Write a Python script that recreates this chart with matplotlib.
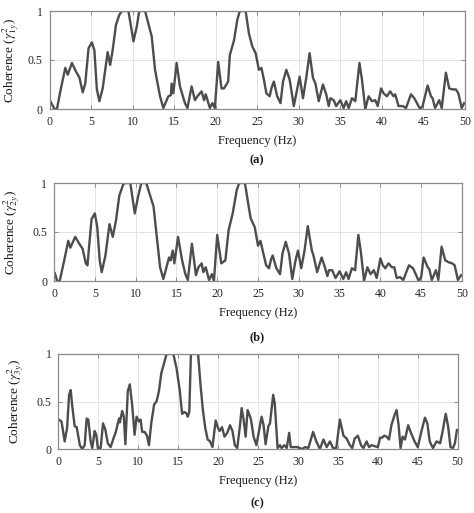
import matplotlib
matplotlib.use("Agg")
import matplotlib.pyplot as plt

# panel (a): coherence gamma^2_1y
freq_a = [0.1, 0.6, 0.9, 1.3, 1.9, 2.2, 2.7, 3.2, 3.6, 4.0,
          4.3, 4.7, 5.1, 5.4, 5.7, 6.0, 6.4, 7.0, 7.3, 7.6,
          8.0, 8.4, 8.7, 9.5, 10.1, 10.5, 10.8, 11.5, 12.0, 12.3,
          12.7, 13.3, 13.7, 14.3, 14.6, 14.7, 14.9, 15.3, 15.7, 16.3,
          16.6, 17.1, 17.5, 17.8, 18.3, 18.6, 18.8, 19.3, 19.6, 19.9,
          20.3, 20.7, 21.0, 21.5, 21.7, 22.2, 22.6, 22.9, 23.6, 24.0,
          24.4, 24.8, 25.2, 25.5, 25.8, 26.1, 26.5, 26.7, 27.0, 27.4,
          27.8, 28.1, 28.5, 28.9, 29.4, 29.8, 30.1, 30.5, 30.9, 31.3,
          31.7, 32.0, 32.4, 32.9, 33.3, 33.6, 33.8, 34.2, 34.5, 35.0,
          35.4, 35.7, 36.0, 36.4, 36.8, 37.3, 37.6, 38.0, 38.4, 38.8,
          39.2, 39.5, 39.9, 40.2, 40.6, 41.0, 41.4, 41.6, 42.0, 42.5,
          42.9, 43.5, 43.9, 44.6, 44.9, 45.5, 45.9, 46.1, 46.4, 46.9,
          47.2, 47.7, 48.1, 48.5, 48.9, 49.2, 49.6, 49.9]
coh_a = [0.08, 0.0, 0.0, 0.18, 0.42, 0.35, 0.47, 0.38, 0.32, 0.17,
         0.26, 0.62, 0.68, 0.60, 0.20, 0.08, 0.21, 0.58, 0.45, 0.60,
         0.86, 0.96, 1.0, 1.0, 0.69, 0.84, 1.0, 1.0, 0.84, 0.74,
         0.40, 0.13, 0.01, 0.13, 0.14, 0.26, 0.16, 0.47, 0.23, 0.06,
         0.01, 0.23, 0.09, 0.13, 0.18, 0.09, 0.15, 0.01, 0.06, 0.01,
         0.48, 0.21, 0.21, 0.28, 0.55, 0.70, 0.91, 1.0, 1.0, 0.77,
         0.64, 0.57, 0.40, 0.42, 0.30, 0.16, 0.13, 0.21, 0.28, 0.13,
         0.06, 0.28, 0.40, 0.30, 0.03, 0.20, 0.33, 0.11, 0.32, 0.57,
         0.32, 0.26, 0.08, 0.25, 0.15, 0.03, 0.11, 0.09, 0.03, 0.09,
         0.01, 0.08, 0.01, 0.11, 0.08, 0.47, 0.30, 0.0, 0.13, 0.08,
         0.09, 0.03, 0.21, 0.16, 0.13, 0.18, 0.13, 0.15, 0.03, 0.03,
         0.01, 0.15, 0.11, 0.0, 0.03, 0.24, 0.13, 0.11, 0.01, 0.09,
         0.01, 0.37, 0.21, 0.20, 0.20, 0.16, 0.01, 0.06]

# panel (b): coherence gamma^2_2y
freq_b = [0.1, 0.4, 0.7, 1.2, 1.75, 2.0, 2.6, 3.1, 3.5, 3.9,
          4.1, 4.6, 5.0, 5.3, 5.6, 5.85, 6.3, 6.8, 7.2, 7.6,
          8.0, 8.5, 8.8, 9.35, 9.9, 10.3, 10.7, 11.3, 11.9, 12.2,
          12.6, 13.0, 13.4, 14.1, 14.3, 14.55, 14.75, 15.2, 15.7, 16.1,
          16.4, 16.9, 17.4, 17.7, 18.1, 18.3, 18.6, 19.0, 19.35, 19.6,
          20.0, 20.5, 21.0, 21.4, 21.9, 22.4, 22.7, 23.4, 23.8, 24.1,
          24.6, 25.0, 25.3, 25.6, 26.0, 26.35, 26.6, 26.8, 27.25, 27.7,
          28.0, 28.4, 28.8, 29.2, 29.6, 29.9, 30.3, 30.7, 31.1, 31.6,
          31.8, 32.25, 32.8, 33.2, 33.5, 33.7, 34.1, 34.5, 35.0, 35.45,
          35.8, 36.1, 36.5, 36.9, 37.3, 37.6, 38.0, 38.4, 38.8, 39.2,
          39.55, 40.0, 40.3, 40.6, 41.0, 41.4, 41.7, 42.0, 42.4, 42.8,
          43.5, 44.0, 44.7, 45.0, 45.3, 45.8, 46.0, 46.3, 46.8, 47.1,
          47.5, 47.95, 48.4, 48.8, 49.1, 49.5, 49.9]
coh_b = [0.08, 0.0, 0.0, 0.19, 0.41, 0.34, 0.45, 0.38, 0.33, 0.18,
         0.16, 0.63, 0.69, 0.55, 0.21, 0.09, 0.26, 0.58, 0.45, 0.62,
         0.87, 0.99, 1.0, 1.0, 0.69, 0.86, 1.0, 1.0, 0.84, 0.76,
         0.45, 0.14, 0.02, 0.24, 0.21, 0.31, 0.18, 0.45, 0.21, 0.07,
         0.01, 0.38, 0.06, 0.14, 0.18, 0.09, 0.14, 0.01, 0.07, 0.0,
         0.47, 0.18, 0.21, 0.52, 0.69, 0.93, 1.0, 1.0, 0.79, 0.64,
         0.55, 0.36, 0.41, 0.30, 0.16, 0.13, 0.22, 0.26, 0.13, 0.07,
         0.28, 0.40, 0.28, 0.02, 0.21, 0.31, 0.13, 0.31, 0.56, 0.31,
         0.26, 0.09, 0.24, 0.14, 0.05, 0.11, 0.11, 0.03, 0.10, 0.02,
         0.09, 0.02, 0.13, 0.11, 0.47, 0.30, 0.0, 0.14, 0.07, 0.11,
         0.03, 0.23, 0.16, 0.13, 0.18, 0.14, 0.14, 0.03, 0.04, 0.01,
         0.16, 0.13, 0.0, 0.04, 0.24, 0.14, 0.12, 0.01, 0.11, 0.01,
         0.35, 0.21, 0.19, 0.18, 0.16, 0.01, 0.06]

# panel (c): coherence gamma^2_3y
freq_c = [0.05, 0.4, 0.8, 1.1, 1.35, 1.55, 1.75, 2.05, 2.3, 2.7,
          3.0, 3.3, 3.55, 3.75, 4.05, 4.25, 4.55, 4.75, 4.95, 5.3,
          5.6, 5.9, 6.2, 6.55, 6.9, 7.2, 7.4, 7.6, 7.7, 8.0,
          8.2, 8.4, 8.7, 8.95, 9.25, 9.55, 9.8, 10.1, 10.3, 10.5,
          10.8, 11.1, 11.35, 11.65, 12.0, 12.3, 12.6, 12.9, 13.2, 13.55,
          14.4, 14.8, 15.2, 15.5, 15.8, 16.1, 16.2, 16.4, 16.6, 17.5,
          17.8, 18.1, 18.4, 18.7, 19.0, 19.3, 19.7, 20.0, 20.2, 20.5,
          20.8, 21.15, 21.5, 21.8, 22.1, 22.4, 22.75, 22.95, 23.2, 23.45,
          23.7, 24.1, 24.45, 24.8, 25.45, 25.7, 25.95, 26.3, 26.5, 26.9,
          27.1, 27.45, 27.75, 27.95, 28.3, 28.6, 28.9, 29.1, 29.55, 29.95,
          30.5, 30.9, 31.3, 31.9, 32.3, 32.75, 33.2, 33.6, 34.0, 34.4,
          34.8, 35.25, 35.7, 36.1, 36.5, 36.8, 37.1, 37.5, 37.9, 38.2,
          38.6, 38.9, 39.2, 39.6, 40.0, 40.3, 40.55, 40.8, 41.1, 41.4,
          41.7, 42.1, 42.35, 42.6, 42.85, 43.1, 43.4, 43.8, 44.1, 44.6,
          45.0, 45.5, 45.9, 46.2, 46.5, 46.9, 47.35, 47.8, 48.1, 48.5,
          48.8, 49.1, 49.4, 49.65, 49.9]
coh_c = [0.31, 0.29, 0.08, 0.22, 0.57, 0.62, 0.45, 0.24, 0.23, 0.04,
         0.0, 0.04, 0.32, 0.31, 0.08, 0.01, 0.19, 0.15, 0.01, 0.01,
         0.27, 0.20, 0.06, 0.02, 0.11, 0.18, 0.25, 0.32, 0.28, 0.40,
         0.34, 0.05, 0.61, 0.68, 0.46, 0.15, 0.34, 0.29, 0.31, 0.18,
         0.18, 0.14, 0.04, 0.28, 0.47, 0.50, 0.61, 0.80, 0.89, 1.0,
         1.0, 0.85, 0.62, 0.37, 0.39, 0.37, 0.34, 0.39, 1.0, 1.0,
         0.68, 0.41, 0.22, 0.10, 0.08, 0.02, 0.30, 0.22, 0.19, 0.23,
         0.13, 0.17, 0.25, 0.19, 0.04, 0.01, 0.25, 0.43, 0.31, 0.13,
         0.41, 0.32, 0.13, 0.04, 0.34, 0.25, 0.05, 0.24, 0.27, 0.57,
         0.48, 0.01, 0.04, 0.01, 0.04, 0.01, 0.17, 0.02, 0.02, 0.02,
         0.0, 0.02, 0.01, 0.18, 0.08, 0.0, 0.10, 0.02, 0.08, 0.01,
         0.01, 0.31, 0.14, 0.11, 0.04, 0.01, 0.11, 0.14, 0.04, 0.01,
         0.08, 0.02, 0.04, 0.03, 0.02, 0.12, 0.12, 0.14, 0.13, 0.10,
         0.25, 0.36, 0.41, 0.25, 0.01, 0.13, 0.10, 0.25, 0.18, 0.08,
         0.02, 0.20, 0.33, 0.27, 0.08, 0.01, 0.08, 0.06, 0.18, 0.37,
         0.24, 0.02, 0.01, 0.06, 0.20]

x_ticks = list(range(0, 51, 5))
y_ticks = [0, 0.5, 1]
y_ticklabels = ["0", "0.5", "1"]
panel_tags = ["(a)", "(b)", "(c)"]
subscripts = ["1y", "2y", "3y"]

plt.rcParams["font.family"] = ["Liberation Serif", "DejaVu Serif"]
plt.rcParams["mathtext.fontset"] = "stix"

fig = plt.figure(figsize=(4.74, 5.13), dpi=100)
W, H = 474, 513

# axes boxes in pixels: left, right, top, bottom
boxes = [(49.5, 465, 11, 109), (54, 462, 183, 281), (58.3, 457.7, 354, 449)]
ylabel_px = [21, 22, 26]   # right edge of the rotated y label
tag_px = [160, 337, 503]
series = [(freq_a, coh_a), (freq_b, coh_b), (freq_c, coh_c)]

line_col = "#4d4d4d"
for i, (l, r, t, b) in enumerate(boxes):
    ax = fig.add_axes([l / W, 1 - b / H, (r - l) / W, (b - t) / H])
    f, c = series[i]
    ax.plot(f, c, color=line_col, lw=1.7, solid_joinstyle="round")
    ax.set_xlim(0, 50)
    ax.set_ylim(0, 1)
    ax.set_xticks(x_ticks)
    ax.set_yticks(y_ticks)
    ax.set_yticklabels(y_ticklabels)
    ax.grid(True, color="#e3e3e3", lw=0.7)
    ax.set_axisbelow(True)
    for s in ax.spines.values():
        s.set_color("#8a8a8a")
        s.set_linewidth(0.9)
    ax.tick_params(direction="in", length=3, width=0.7, color="#8a8a8a",
                   top=True, right=True, labelsize=8.5, labelcolor="#262626",
                   pad=5)
    ax.set_xlabel("Frequency (Hz)", fontsize=9, color="#1a1a1a", labelpad=5)
    ax.set_ylabel(r"Coherence ($\gamma^2_{%s}$)" % subscripts[i], fontsize=9.5,
                  color="#1a1a1a")
    ax.yaxis.set_label_coords((ylabel_px[i] - l) / (r - l), 0.5)
    fig.text(257 / W, 1 - tag_px[i] / H, panel_tags[i], ha="center",
             va="center", fontsize=9, fontweight="bold", color="#1a1a1a")

fig.savefig("out.png", dpi=100)
